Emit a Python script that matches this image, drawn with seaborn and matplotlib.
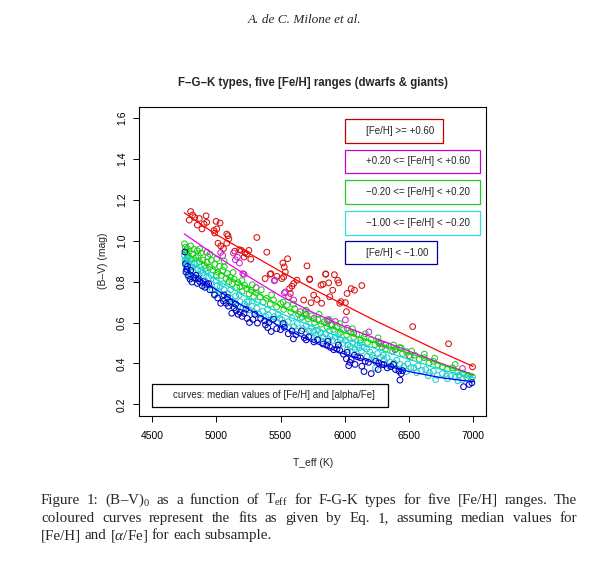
import matplotlib
matplotlib.use("Agg")
import matplotlib.pyplot as plt
import seaborn as sns
import numpy as np
import pandas as pd
from matplotlib.patches import Rectangle

# ---- data: (Teff [K], (B-V)0 [mag]) ----
red_pts = [
    (4800, 1.143), (4815, 1.126), (4789, 1.101), (4831, 1.114), (4867, 1.109), (4920, 1.122),
    (4852, 1.077), (4888, 1.058), (4925, 1.090), (4904, 1.082), (4998, 1.095), (5029, 1.087),
    (4982, 1.050), (4987, 1.038), (5003, 1.058), (5081, 1.033), (5091, 1.025), (5013, 0.988),
    (5034, 0.975), (5055, 0.961), (5081, 0.988), (5097, 1.009), (5143, 0.949), (5180, 0.956),
    (5195, 0.953), (5216, 0.920), (5237, 0.936), (5253, 0.953), (5222, 0.941), (5268, 0.910),
    (5315, 1.016), (5393, 0.944), (5518, 0.891), (5555, 0.912), (5529, 0.872), (5706, 0.877),
    (5727, 0.813), (5852, 0.838), (5919, 0.834), (5471, 0.826), (5425, 0.839), (5380, 0.815),
    (5419, 0.836), (5510, 0.815), (5524, 0.823), (5537, 0.847), (5570, 0.766), (5589, 0.778),
    (5602, 0.791), (5576, 0.742), (5628, 0.807), (5727, 0.810), (5758, 0.734), (5784, 0.713),
    (5815, 0.783), (5831, 0.787), (5852, 0.836), (5875, 0.794), (5906, 0.758), (5945, 0.807),
    (5953, 0.794), (5961, 0.694), (5971, 0.702), (6005, 0.697), (6013, 0.653), (6018, 0.742),
    (6050, 0.766), (6076, 0.758), (6133, 0.781), (5680, 0.710), (5737, 0.697), (5820, 0.694),
    (5883, 0.726), (6529, 0.580), (6808, 0.496), (6995, 0.383),
]
magenta_pts = [
    (4927, 0.944), (5034, 0.943), (5050, 0.928), (5133, 0.940), (5148, 0.907), (5164, 0.920),
    (5180, 0.891), (5206, 0.839), (5216, 0.836), (5310, 0.771), (5451, 0.804), (5456, 0.807),
    (5529, 0.745), (5539, 0.750), (5563, 0.726), (5602, 0.710), (5654, 0.653), (5862, 0.613),
    (5875, 0.609), (5901, 0.588), (5927, 0.605), (6005, 0.613), (6018, 0.572), (6070, 0.548),
    (6188, 0.554), (6266, 0.499), (6279, 0.496), (6318, 0.490), (6391, 0.467), (6500, 0.438),
    (6917, 0.375), (5760, 0.620), (5700, 0.640),
]
green_pts = [
    (4752, 0.985), (4758, 0.968), (4763, 0.952), (4768, 0.940), (4775, 0.962), (4782, 0.925),
    (4790, 0.948), (4800, 0.910), (4812, 0.935), (4826, 0.958), (4840, 0.918), (4852, 0.951),
    (4860, 0.928), (4868, 0.898), (4880, 0.940), (4895, 0.905), (4908, 0.880), (4925, 0.896),
    (4935, 0.922), (4948, 0.870), (4960, 0.905), (4972, 0.858), (4988, 0.885), (5003, 0.912),
    (5012, 0.846), (5024, 0.875), (5038, 0.830), (5050, 0.855), (5062, 0.872), (5075, 0.815),
    (5086, 0.840), (5098, 0.800), (5107, 0.822), (5122, 0.790), (5140, 0.812), (5158, 0.772),
    (5170, 0.795), (5185, 0.775), (5200, 0.752), (5220, 0.782), (5237, 0.766), (5255, 0.740),
    (5270, 0.758), (5290, 0.728), (5310, 0.745), (5341, 0.726), (5365, 0.700), (5390, 0.718),
    (5420, 0.690), (5445, 0.710), (5470, 0.676), (5500, 0.692), (5525, 0.664), (5550, 0.685),
    (5580, 0.652), (5610, 0.668), (5640, 0.640), (5668, 0.626), (5690, 0.648), (5715, 0.618),
    (5740, 0.633), (5765, 0.600), (5790, 0.615), (5815, 0.592), (5840, 0.604), (5862, 0.578),
    (5890, 0.590), (5912, 0.566), (5940, 0.580), (5965, 0.552), (5990, 0.565), (6015, 0.540),
    (6045, 0.553), (6070, 0.528), (6095, 0.542), (6125, 0.515), (6150, 0.528), (6178, 0.502),
    (6205, 0.516), (6235, 0.492), (6262, 0.505), (6290, 0.480), (6318, 0.470), (6345, 0.485),
    (6372, 0.458), (6400, 0.470), (6428, 0.478), (6450, 0.448), (6480, 0.458), (6510, 0.430),
    (6545, 0.440), (6580, 0.420), (6620, 0.428), (6655, 0.402), (6690, 0.410), (6725, 0.392),
    (6760, 0.384), (6800, 0.372), (6840, 0.378), (6880, 0.358), (6920, 0.352), (6960, 0.342),
    (6995, 0.334),
    (4770, 0.905), (4800, 0.975), (4830, 0.890), (4870, 0.960), (4915, 0.865), (4950, 0.935),
    (5000, 0.830), (5060, 0.900), (5130, 0.845), (5200, 0.805), (5280, 0.785), (5350, 0.760),
    (5430, 0.735), (5520, 0.700), (5600, 0.690), (5700, 0.660), (5800, 0.640), (5880, 0.615),
    (5960, 0.595), (6060, 0.570), (6160, 0.545), (6260, 0.525), (6380, 0.490), (6440, 0.475),
    (6520, 0.460), (6620, 0.445), (6700, 0.425), (6860, 0.395),
]
cyan_pts = [
    (4752, 0.928), (4756, 0.905), (4760, 0.880), (4765, 0.860), (4772, 0.918), (4778, 0.842),
    (4785, 0.895), (4792, 0.823), (4800, 0.870), (4808, 0.823), (4818, 0.850), (4830, 0.885),
    (4842, 0.812), (4855, 0.860), (4868, 0.830), (4880, 0.795), (4895, 0.842), (4910, 0.805),
    (4925, 0.775), (4940, 0.820), (4955, 0.790), (4970, 0.760), (4990, 0.739), (5005, 0.780),
    (5018, 0.752), (5029, 0.774), (5045, 0.728), (5060, 0.760), (5072, 0.712), (5090, 0.742),
    (5105, 0.720), (5120, 0.690), (5133, 0.702), (5150, 0.730), (5168, 0.680), (5185, 0.702),
    (5205, 0.672), (5220, 0.690), (5237, 0.702), (5256, 0.662), (5275, 0.680), (5295, 0.650),
    (5315, 0.669), (5335, 0.640), (5360, 0.655), (5385, 0.628), (5406, 0.637), (5428, 0.612),
    (5450, 0.628), (5475, 0.600), (5495, 0.620), (5510, 0.613), (5535, 0.590), (5560, 0.604),
    (5589, 0.621), (5605, 0.580), (5630, 0.595), (5654, 0.621), (5672, 0.570), (5700, 0.585),
    (5725, 0.558), (5740, 0.575), (5758, 0.556), (5775, 0.540), (5790, 0.562), (5810, 0.548),
    (5830, 0.530), (5850, 0.545), (5870, 0.520), (5888, 0.532), (5905, 0.512), (5925, 0.528),
    (5945, 0.505), (5966, 0.516), (5985, 0.498), (6005, 0.512), (6025, 0.490), (6044, 0.483),
    (6062, 0.500), (6080, 0.470), (6098, 0.488), (6110, 0.475), (6130, 0.460), (6150, 0.478),
    (6175, 0.435), (6195, 0.455), (6215, 0.440), (6240, 0.378), (6255, 0.448), (6280, 0.430),
    (6305, 0.418), (6330, 0.428), (6355, 0.405), (6383, 0.402), (6405, 0.415), (6430, 0.395),
    (6461, 0.386), (6490, 0.398), (6515, 0.380), (6539, 0.378), (6570, 0.388), (6600, 0.365),
    (6630, 0.370), (6660, 0.355), (6690, 0.362), (6708, 0.321), (6721, 0.341), (6760, 0.350),
    (6790, 0.338), (6826, 0.338), (6860, 0.332), (6890, 0.342), (6917, 0.321), (6950, 0.330),
    (6987, 0.321),
    (4790, 0.905), (4815, 0.870), (4850, 0.890), (4880, 0.855), (4920, 0.850), (4960, 0.830),
    (5000, 0.805), (5050, 0.790), (5110, 0.760), (5180, 0.735), (5250, 0.700), (5320, 0.700),
    (5400, 0.665), (5480, 0.640), (5560, 0.575), (5620, 0.560), (5700, 0.545), (5760, 0.525),
    (5820, 0.510), (5880, 0.560), (5950, 0.540), (6020, 0.468), (6060, 0.455), (6120, 0.500),
    (6170, 0.470), (6230, 0.425), (6300, 0.440), (6350, 0.385), (6420, 0.372), (6480, 0.360),
    (6560, 0.355), (6650, 0.340), (6800, 0.325), (6880, 0.315),
]
blue_pts = [
    (4755, 0.945), (4760, 0.888), (4763, 0.847), (4770, 0.860), (4780, 0.830), (4795, 0.812),
    (4810, 0.798), (4825, 0.818), (4841, 0.831), (4852, 0.791), (4870, 0.800), (4890, 0.780),
    (4910, 0.772), (4925, 0.787), (4950, 0.760), (4985, 0.735), (5010, 0.720), (5034, 0.694),
    (5055, 0.705), (5076, 0.694), (5086, 0.723), (5094, 0.680), (5105, 0.700), (5120, 0.645),
    (5140, 0.672), (5154, 0.658), (5170, 0.640), (5185, 0.650), (5200, 0.630), (5216, 0.645),
    (5240, 0.620), (5258, 0.600), (5285, 0.615), (5320, 0.597), (5345, 0.620), (5375, 0.608),
    (5383, 0.588), (5400, 0.575), (5427, 0.556), (5445, 0.616), (5470, 0.570), (5500, 0.565),
    (5529, 0.577), (5560, 0.545), (5589, 0.559), (5620, 0.540), (5664, 0.559), (5685, 0.525),
    (5720, 0.530), (5760, 0.505), (5789, 0.516), (5830, 0.495), (5860, 0.488), (5888, 0.478),
    (5914, 0.467), (5940, 0.470), (5961, 0.464), (5990, 0.445), (6018, 0.454), (6013, 0.422),
    (6031, 0.389), (6040, 0.405), (6050, 0.419), (6075, 0.440), (6100, 0.432), (6122, 0.427),
    (6133, 0.386), (6160, 0.410), (6185, 0.405), (6206, 0.350), (6240, 0.410), (6265, 0.402),
    (6290, 0.395), (6305, 0.394), (6331, 0.378), (6360, 0.384), (6395, 0.370), (6422, 0.362),
    (6430, 0.318), (6450, 0.365), (6925, 0.286), (6969, 0.297), (6990, 0.305),
    (4775, 0.875), (4800, 0.855), (4860, 0.815), (4900, 0.800), (4940, 0.790), (5060, 0.735),
    (5150, 0.690), (5230, 0.665), (5300, 0.640), (5410, 0.600), (5520, 0.595), (5600, 0.520),
    (5700, 0.515), (5870, 0.508), (5950, 0.490), (6080, 0.395), (6150, 0.360), (6260, 0.370),
    (6380, 0.395), (6440, 0.350),
]

# fitted curves (median [Fe/H], [alpha/Fe]) read at these temperatures
curve_teff = [4750, 5000, 5250, 5500, 5750, 6000, 6250, 6500, 6750, 7000]
red_curve = [1.137, 1.030, 0.940, 0.850, 0.765, 0.685, 0.605, 0.530, 0.455, 0.385]
magenta_curve = [1.034, 0.925, 0.825, 0.730, 0.650, 0.580, 0.520, 0.460, 0.400, 0.345]
green_curve = [0.945, 0.855, 0.770, 0.680, 0.610, 0.550, 0.500, 0.450, 0.395, 0.340]
cyan_curve = [0.910, 0.810, 0.720, 0.645, 0.580, 0.520, 0.470, 0.420, 0.370, 0.330]
blue_curve = [0.868, 0.760, 0.665, 0.580, 0.505, 0.445, 0.400, 0.360, 0.330, 0.310]

groups = ["[Fe/H] >= +0.60", "+0.20 <= [Fe/H] < +0.60", "\u22120.20 <= [Fe/H] < +0.20",
          "\u22121.00 <= [Fe/H] < \u22120.20", "[Fe/H] < \u22121.00"]

# ---- style ----
sns.set_style("ticks")
plt.rcParams["font.family"] = ["Liberation Sans", "DejaVu Sans"]
plt.rcParams["mathtext.fontset"] = "custom"
plt.rcParams["mathtext.rm"] = "Liberation Serif"
plt.rcParams["mathtext.it"] = "Liberation Serif:italic"
plt.rcParams["axes.edgecolor"] = "black"
plt.rcParams["xtick.color"] = "black"
plt.rcParams["ytick.color"] = "black"

W, H = 613, 572
fig = plt.figure(figsize=(W / 100, H / 100), dpi=100)
fig.patch.set_facecolor("white")
ax = fig.add_axes([139.3 / W, 1 - 415.7 / H, (486 - 139.3) / W, (415.7 - 106.7) / H])

point_cols = ["#D81010", "#CC22CC", "#22CC22", "#22CCCC", "#0000C0"]
line_cols = ["#FF0000", "#EE00EE", "#00DD00", "#00DDDD", "#0000FF"]
box_cols = ["#C00000", "#CC00CC", "#22CC22", "#33DDDD", "#000099"]
all_pts = [red_pts, magenta_pts, green_pts, cyan_pts, blue_pts]
all_curves = [red_curve, magenta_curve, green_curve, cyan_curve, blue_curve]

for pts, pc in zip(all_pts, point_cols):
    df = pd.DataFrame(pts, columns=["teff", "bv"])
    sns.scatterplot(data=df, x="teff", y="bv", ax=ax, marker="o", s=17,
                    facecolor="none", edgecolor=pc, linewidth=0.75, legend=False)

for curve, lc in zip(all_curves, line_cols):
    sns.lineplot(x=curve_teff, y=curve, ax=ax, color=lc, linewidth=0.9)

ax.set_xlim(4400, 7100)
ax.set_ylim(0.144, 1.656)
ax.set_xticks([4500, 5000, 5500, 6000, 6500, 7000])
ax.set_yticks([0.2, 0.4, 0.6, 0.8, 1.0, 1.2, 1.4, 1.6])
ax.set_yticklabels(["0.2", "0.4", "0.6", "0.8", "1.0", "1.2", "1.4", "1.6"],
                   rotation=90, va="center")
ax.tick_params(labelsize=7.5, length=4, width=0.7)
ax.tick_params(axis="x", pad=7)
ax.tick_params(axis="y", pad=5)
for sp in ax.spines.values():
    sp.set_linewidth(0.8)
    sp.set_visible(True)
ax.set_xlabel("T_eff (K)", fontsize=7.5, labelpad=12)
ax.set_ylabel("(B\u2013V) (mag)", fontsize=7.5, labelpad=6)
ax.set_title("F\u2013G\u2013K types, five [Fe/H] ranges (dwarfs & giants)",
             fontsize=8.3, fontweight="bold", pad=15)

# legend boxes (R style, no symbols)
box_top = [1.595, 1.446, 1.296, 1.145, 0.999]
box_right = [6769, 7050, 7050, 7050, 6722]
box_h = 0.115
for lab, bc, top, right in zip(groups, box_cols, box_top, box_right):
    ax.add_patch(Rectangle((6000, top - box_h), right - 6000, box_h, fill=False,
                           edgecolor=bc, linewidth=0.9, zorder=5))
    ax.text(6162, top - box_h / 2, lab, fontsize=7, va="center", ha="left", zorder=6)
ax.add_patch(Rectangle((4500, 0.187), 1836, 0.113, fill=False, edgecolor="black",
                       linewidth=0.9, zorder=5))
ax.text(4664, 0.2435, "curves: median values of [Fe/H] and [alpha/Fe]", fontsize=7,
        va="center", ha="left", zorder=6)

# page header
fig.text(305 / W, 1 - 20 / H, "A. de C. Milone et al.", ha="center", va="center",
         fontsize=9.5, family="Liberation Serif", style="italic")

# justified caption
serif = dict(fontsize=10.8, family="Liberation Serif", va="baseline", ha="left")


def justified(words, x0, x1, y, justify=True):
    rend = fig.canvas.get_renderer()
    texts = [fig.text(0, 1 - y / H, w, **serif) for w in words]
    widths = [t.get_window_extent(rend).width for t in texts]
    if justify:
        gap = (x1 - x0 - sum(widths)) / (len(words) - 1)
    else:
        a = fig.text(0, 0, "a a", **serif)
        b = fig.text(0, 0, "aa", **serif)
        gap = a.get_window_extent(rend).width - b.get_window_extent(rend).width
        a.remove()
        b.remove()
    x = x0
    for t, w in zip(texts, widths):
        t.set_position((x / W, 1 - y / H))
        x += w + gap


line1 = ["Figure", "1:", "(B\u2013V)$_0$", "as", "a", "function", "of", "T$_{\\mathrm{eff}}$",
         "for", "F-G-K", "types", "for", "five", "[Fe/H]", "ranges.", "The"]
line2 = ["coloured", "curves", "represent", "the", "fits", "as", "given", "by", "Eq.", "1,",
         "assuming", "median", "values", "for"]
line3 = ["[Fe/H]", "and", "[$\\alpha$/Fe]", "for", "each", "subsample."]
justified(line1, 41, 577, 504)
justified(line2, 41, 577, 522)
justified(line3, 41, 577, 539, justify=False)

fig.savefig("out.png", dpi=100, facecolor="white")
